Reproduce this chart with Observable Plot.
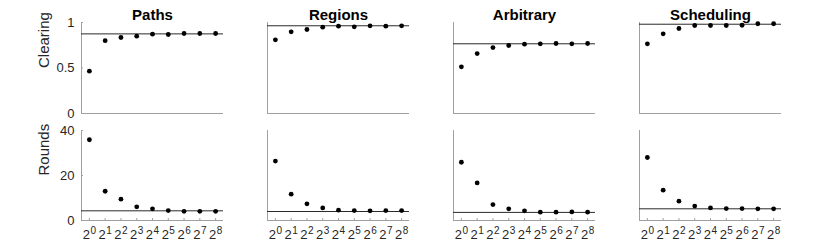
<!DOCTYPE html>
<html>
<head>
<meta charset="utf-8">
<script src="https://cdn.jsdelivr.net/npm/d3@7"></script>
<script src="https://cdn.jsdelivr.net/npm/@observablehq/plot@0.6"></script>
<style>
  html, body { margin: 0; padding: 0; background: #fff; }
  #chart { position: relative; width: 830px; height: 246px; overflow: hidden; font-family: "Liberation Sans", Arial, Helvetica, sans-serif; }
  #chart svg { position: absolute; left: 0; font-family: "Liberation Sans", Arial, Helvetica, sans-serif; }
</style>
</head>
<body>
<div id="chart"></div>
<script>
// ---- data ----
const panels = ["Paths", "Regions", "Arbitrary", "Scheduling"];
const exponents = [0, 1, 2, 3, 4, 5, 6, 7, 8];

const clearingPaths      = [0.465, 0.80, 0.835, 0.85, 0.872, 0.868, 0.879, 0.879, 0.879];
const clearingRegions    = [0.81, 0.898, 0.923, 0.949, 0.96, 0.952, 0.963, 0.96, 0.963];
const clearingArbitrary  = [0.513, 0.659, 0.725, 0.747, 0.762, 0.766, 0.769, 0.766, 0.769];
const clearingScheduling = [0.766, 0.876, 0.934, 0.967, 0.967, 0.967, 0.97, 0.986, 0.986];
const clearingRef        = [0.875, 0.964, 0.766, 0.981];

const roundsPaths      = [35.9, 13.0, 9.5, 6.1, 5.2, 4.4, 4.1, 4.1, 4.1];
const roundsRegions    = [26.4, 11.7, 7.4, 5.6, 4.6, 4.4, 4.3, 4.4, 4.4];
const roundsArbitrary  = [25.9, 16.7, 7.1, 5.2, 4.3, 3.7, 3.7, 3.8, 3.7];
const roundsScheduling = [28.0, 13.5, 8.6, 6.4, 5.6, 5.3, 5.3, 5.2, 5.2];
const roundsRef        = [4.3, 4.0, 3.6, 5.2];

const clearingTicks = [0, 0.5, 1];
const roundsTicks = [0, 20, 40];

// ---- build tables ----
function table(seriesList) {
  const rows = [];
  seriesList.forEach((vals, i) => vals.forEach((v, j) => rows.push({panel: panels[i], exp: exponents[j], value: v})));
  return rows;
}
const clearing = table([clearingPaths, clearingRegions, clearingArbitrary, clearingScheduling]);
const rounds = table([roundsPaths, roundsRegions, roundsArbitrary, roundsScheduling]);
const refRows = refs => refs.map((v, i) => ({panel: panels[i], value: v}));

const AXIS = "#a0a0a0", INK = "#262626";

function row({data, refs, yDomain, yTicks, yFormat, label, height, marginTop, marginBottom, titles, xLabels}) {
  const marks = [
    Plot.ruleX(panels, {fx: d => d, x: () => -0.5, stroke: AXIS, strokeWidth: 1}),
    Plot.ruleY(panels, {fx: d => d, y: () => yDomain[0], stroke: AXIS, strokeWidth: 1}),
    Plot.ruleY(refRows(refs), {fx: "panel", y: "value", stroke: "#2a2a2a", strokeWidth: 1}),
    Plot.dot(data, {fx: "panel", x: "exp", y: "value", r: 2.4, fill: "black", stroke: null}),
    Plot.axisY({ticks: yTicks, tickFormat: yFormat, tickSize: -2, tickPadding: 9, stroke: AXIS, fill: INK, fontSize: 13, label: null}),
    Plot.text([label], {fx: () => "Paths", text: d => d, frameAnchor: "left", rotate: -90, dx: -37, fontSize: 15, fill: INK})
  ];
  if (titles) {
    marks.push(Plot.text(panels, {fx: d => d, text: d => d, frameAnchor: "top", dy: -13, fontSize: 15, fontWeight: "bold", fill: "black"}));
  }
  if (xLabels) {
    marks.push(Plot.axisX({ticks: exponents, tickSize: -2, tickPadding: 11, stroke: AXIS, fill: INK, fontSize: 13, tickFormat: d => "2^" + d, label: null}));
  }
  return Plot.plot({
    width: 830,
    height,
    marginLeft: 80,
    marginRight: 48,
    marginTop,
    marginBottom,
    style: {fontFamily: '"Liberation Sans", Arial, Helvetica, sans-serif', background: "transparent"},
    fx: {domain: panels, paddingInner: 0.238, paddingOuter: 0, axis: null},
    x: {domain: [-0.5, 8.5], axis: null},
    y: {domain: yDomain, axis: null},
    marks
  });
}

const topRow = row({
  data: clearing, refs: clearingRef, yDomain: [0, 1], yTicks: clearingTicks,
  yFormat: d => String(d), label: "Clearing", height: 120, marginTop: 22, marginBottom: 7, titles: true, xLabels: false
});
const bottomRow = row({
  data: rounds, refs: roundsRef, yDomain: [0, 40], yTicks: roundsTicks,
  yFormat: d => String(d), label: "Rounds", height: 126, marginTop: 10, marginBottom: 26, titles: false, xLabels: true
});

const chart = document.getElementById("chart");
topRow.style.top = "0px";
bottomRow.style.top = "120px";
chart.appendChild(topRow);
chart.appendChild(bottomRow);

// render exponents as superscripts
d3.select(bottomRow).selectAll("g[aria-label='x-axis tick label'] text").each(function() {
  const s = this.textContent;
  const m = /^(\d+)\^(\d+)$/.exec(s);
  if (!m) return;
  const t = d3.select(this);
  t.text(null);
  t.append("tspan").text(m[1]);
  t.append("tspan").attr("dy", "-0.5em").attr("dx", "0.5").attr("font-size", "10").text(m[2]);
});
</script>
</body>
</html>
